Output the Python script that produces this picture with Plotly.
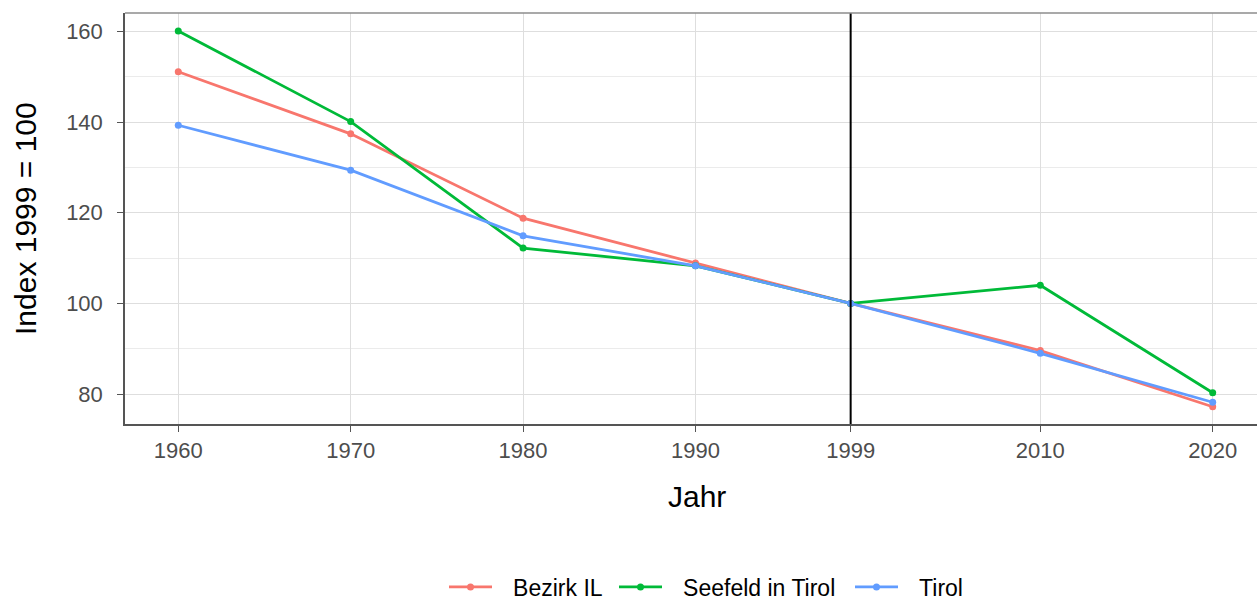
import plotly.graph_objects as go

years = [1960, 1970, 1980, 1990, 1999, 2010, 2020]
bezirk_il = [151.1, 137.4, 118.8, 108.9, 100.0, 89.6, 77.2]
seefeld = [160.1, 140.1, 112.2, 108.3, 100.0, 104.0, 80.3]
tirol = [139.3, 129.4, 114.9, 108.3, 100.0, 89.0, 78.2]
series_names = ["Bezirk IL", "Seefeld in Tirol", "Tirol"]
series_colors = ["#F8766D", "#00BA38", "#619CFF"]
y_ticks = [80, 100, 120, 140, 160]
y_minor = [90, 110, 130, 150]
ref_year = 1999

font_family = "Liberation Sans, Arial, sans-serif"
W, H = 1257, 596
ML, MR, MT, MB = 125, 0, 13, 172
PW = W - ML - MR
PH = H - MT - MB

def px_x(px):
    return (px - ML) / PW

def px_y(py):
    return (H - MB - py) / PH

fig = go.Figure()
legend_keys = ["legend", "legend2", "legend3"]
legend_px = [444, 614, 850]
for name, vals, col, lk in zip(series_names, [bezirk_il, seefeld, tirol], series_colors, legend_keys):
    fig.add_trace(go.Scatter(
        x=years, y=vals, name="\u2002\u2009" + name, mode="lines+markers",
        line=dict(color=col, width=2.8),
        marker=dict(color=col, size=7),
        legend=lk,
    ))

fig.add_shape(type="line", xref="x", yref="paper", x0=ref_year, x1=ref_year, y0=0, y1=1,
              line=dict(color="black", width=2))
fig.add_shape(type="line", xref="paper", yref="paper", x0=0, x1=1, y0=1, y1=1,
              line=dict(color="#8c8c8c", width=1.5))

legend_common = dict(orientation="h", xanchor="left", yanchor="middle",
                     y=px_y(587), font=dict(size=23, color="black"),
                     itemwidth=43, bgcolor="rgba(0,0,0,0)", borderwidth=0)
layout_legends = {}
for lk, lx in zip(legend_keys, legend_px):
    layout_legends[lk] = dict(legend_common, x=px_x(lx))

fig.update_layout(
    width=W, height=H,
    margin=dict(l=ML, r=MR, t=MT, b=MB, autoexpand=False),
    paper_bgcolor="white", plot_bgcolor="white",
    font=dict(family=font_family, color="#4D4D4D"),
    showlegend=True,
    **layout_legends,
)
fig.add_annotation(text="Jahr", xref="paper", yref="paper", x=px_x(697), y=px_y(497),
                   showarrow=False, font=dict(size=30, color="black"), xanchor="center", yanchor="middle")
fig.add_annotation(text="Index 1999 = 100", xref="paper", yref="paper", x=px_x(25), y=px_y(219),
                   showarrow=False, textangle=-90, font=dict(size=30, color="black"),
                   xanchor="center", yanchor="middle")

fig.update_xaxes(
    range=[1956.91, 2022.57], tickvals=years, ticktext=[str(y) for y in years],
    showgrid=True, gridcolor="#DEDEDE", gridwidth=1,
    showline=True, linecolor="#555555", linewidth=1.5,
    ticks="outside", ticklen=6, tickcolor="#555555",
    tickfont=dict(size=22, color="#4D4D4D"),
    zeroline=False, automargin=False,
)
fig.update_yaxes(
    range=[73.4, 164.06], tickvals=y_ticks,
    showgrid=True, gridcolor="#DEDEDE", gridwidth=1,
    minor=dict(tickvals=y_minor, showgrid=True, gridcolor="#EBEBEB", gridwidth=1, ticks=""),
    showline=True, linecolor="#555555", linewidth=1.5,
    ticks="outside", ticklen=6, tickcolor="#555555",
    tickfont=dict(size=22, color="#4D4D4D"),
    ticklabelstandoff=10,
    zeroline=False, automargin=False,
)

fig.write_html(
    "out.html",
    config={"displayModeBar": False},
    post_script="document.body.style.margin='0';document.body.style.overflow='hidden';",
)
